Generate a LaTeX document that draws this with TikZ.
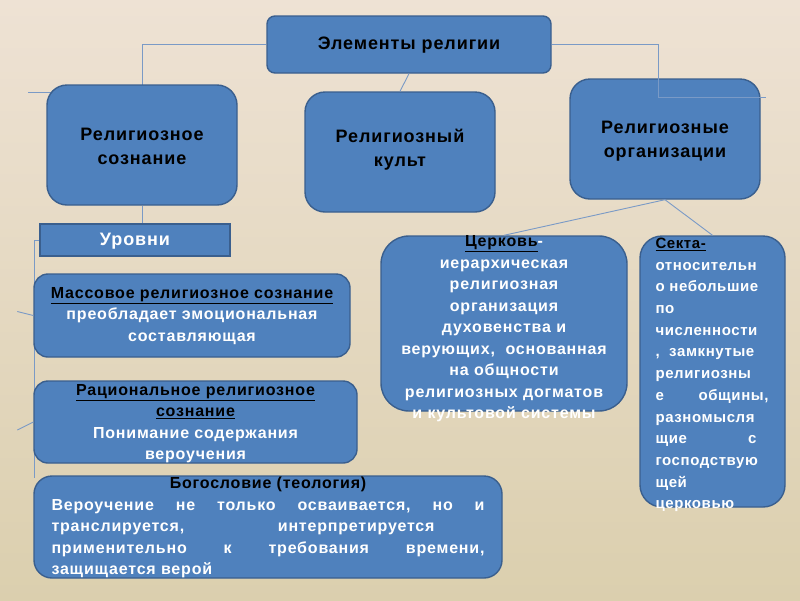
\documentclass[tikz,border=0pt]{standalone}
\usepackage{fontspec}
\setmainfont{Liberation Sans}
\newfontfamily\spacedfont[LetterSpace=5]{Liberation Sans}
\newfontfamily\sectfont[LetterSpace=4]{Liberation Sans}
\usetikzlibrary{calc}
\definecolor{boxblue}{HTML}{4F81BD}
\definecolor{boxline}{HTML}{3A5F8E}
\definecolor{linkblue}{HTML}{7A9AC6}
\definecolor{bgtop}{HTML}{EEE2D4}
\definecolor{bgbot}{HTML}{DBCFAE}
\tikzset{
	block/.style={draw=boxline, fill=boxblue, line width=1.4pt},
	topbox/.style={block, rounded corners=20pt, minimum width=190pt, minimum height=120pt},
	toptext/.style={align=center, text=black, font=\spacedfont\bfseries\fontsize{18}{24}\selectfont},
	lowtext/.style={align=center, text=white, font=\spacedfont\bfseries\fontsize{16}{21.5}\selectfont},
	link/.style={draw=linkblue, line width=0.9pt},
}
\begin{document}
\begin{tikzpicture}[x=1pt, y=-1pt]
\shade[top color=bgtop, bottom color=bgbot] (0,0) rectangle (800,600);
\useasboundingbox (0,0) rectangle (800,600);
% upper level
\node[block, rounded corners=8pt, minimum width=284pt, minimum height=57pt] (elem) at (409,44.5) {};
\coordinate (consjoin) at (142,92);
\draw[link] (elem.west) -| (consjoin) -- ++(-114,0);
\node[topbox] (cons) at (142,145) {};
\node[topbox] (cult) at (400,152) {};
\node[topbox] (org) at (665,139) {};
\draw[link] (elem.south) -- (cult.north);
% levels of consciousness
\node[block, minimum width=190pt, minimum height=32pt] (levels) at (135,240) {};
\draw[link] (cons.south) -- (cons.south |- levels.north);
\draw[link] (levels.west) -- ++(-5,0) coordinate (spine) -- (spine |- 0,478);
\node[block, rounded corners=14pt, minimum width=316pt, minimum height=83pt] (mass) at (192,315.5) {};
\node[block, rounded corners=14pt, minimum width=323pt, minimum height=82pt] (rat) at (195.5,422) {};
\node[block, rounded corners=18pt, minimum width=468pt, minimum height=102pt] (theo) at (268,527) {};
\draw[link] ([xshift=-1pt]spine |- mass.west) -- ++(-16,-4);
\draw[link] ([xshift=-1pt]spine |- rat.west) -- ++(-16,8);
% organizations
\node[block, rounded corners=28pt, minimum width=246pt, minimum height=175pt] (church) at (504,323.5) {};
\node[block, rounded corners=22pt, minimum width=145pt, minimum height=271pt] (sect) at (712.5,371.5) {};
\draw[link] (org.south) -- (church.north);
\draw[link] (org.south) -- (sect.north);
\draw[link] (elem.east) -| ($(org.north)+(-7,19)$) -- ++(108,0);
% texts
\node[toptext] (elemtext) at (409,45) {Элементы религии};
\node[toptext] (constext) at (142,146) {Религиозное\\сознание};
\node[toptext] (culttext) at (400,150) {Религиозный\\культ};
\node[toptext] (orgtext) at (665,141) {Религиозные\\организации};
\node[toptext, text=white] (levelstext) at (135,241) {Уровни};
\node[lowtext] (masstext) at (192,316) {\textcolor{black}{\underline{Массовое религиозное сознание}}\\преобладает эмоциональная\\составляющая};
\node[lowtext] (rattext) at (195.5,423.5) {\textcolor{black}{\underline{Рациональное религиозное}}\\\textcolor{black}{\underline{сознание}}\\Понимание содержания\\вероучения};
\node[lowtext] (theotext) at (268,527.5) {\textcolor{black}{Богословие (теология)}\\
\hbox to 433pt{Вероучение\hfill не\hfill только\hfill осваивается,\hfill но\hfill и}\\
\hbox to 433pt{транслируется,\hfill интерпретируется\hspace*{50pt}}\\
\hbox to 433pt{применительно\hfill к\hfill требования\hfill времени,}\\
\hbox to 433pt{защищается верой\hfill}};
\node[lowtext] (churchtext) at (504,329) {\textcolor{black}{\underline{Церковь}}-\\иерархическая\\религиозная\\организация\\духовенства и\\верующих,\ \ основанная\\на общности\\религиозных догматов\\и культовой системы};
\node[lowtext, align=left, font=\sectfont\bfseries\fontsize{15}{21.7}\selectfont] (secttext) at (712,375) {\textcolor{black}{\underline{Секта-}}\\
\hbox to 113pt{относительн\hfill}\\
\hbox to 113pt{о небольшие\hfill}\\
\hbox to 113pt{по\hfill}\\
\hbox to 113pt{численности\hfill}\\
\hbox to 113pt{,\ \ замкнутые\hfill}\\
\hbox to 113pt{религиозны\hfill}\\
\hbox to 113pt{е\hfill общины,}\\
\hbox to 113pt{разномысля\hfill}\\
\hbox to 113pt{щие\hfill с\hspace*{12pt}}\\
\hbox to 113pt{господствую\hfill}\\
\hbox to 113pt{щей\hfill}\\
\hbox to 113pt{церковью\hfill}};
\end{tikzpicture}
\end{document}
